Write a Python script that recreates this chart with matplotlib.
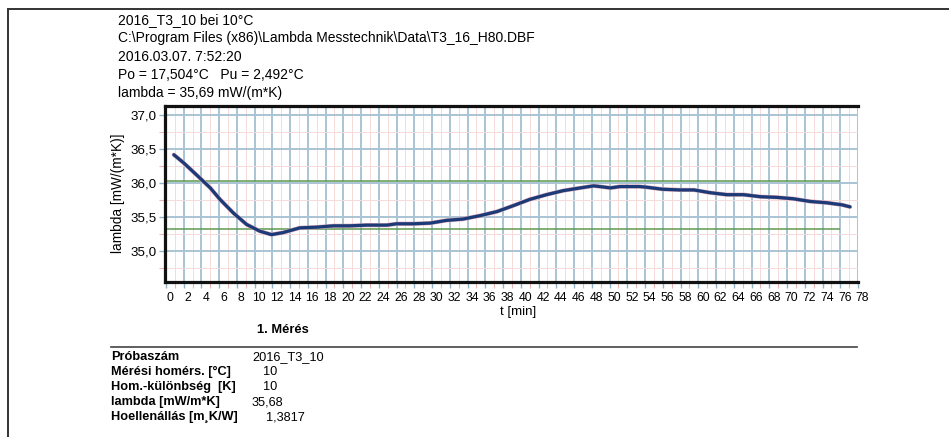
import matplotlib
matplotlib.use("Agg")
import matplotlib.pyplot as plt
import matplotlib.patheffects as pe
import matplotlib.transforms as mtransforms
from matplotlib.lines import Line2D
from matplotlib.ticker import MultipleLocator, FuncFormatter

plt.rcParams["font.family"] = ["Liberation Sans", "DejaVu Sans"]

W, H = 949, 437

# measured curve: t [min] vs lambda [mW/(m*K)]
t_min = [0.9, 2.0, 3.8, 5.0, 6.1, 7.6, 9.1, 10.6, 11.9, 13.2, 15.1, 17.0,
         18.9, 20.7, 22.6, 24.9, 26.0, 27.9, 29.8, 31.6, 33.5, 35.4, 37.3,
         39.2, 41.0, 42.9, 44.8, 46.7, 48.2, 48.9, 50.1, 51.2, 53.4, 54.2,
         56.0, 58.0, 59.5, 61.3, 63.2, 65.1, 67.0, 68.9, 70.7, 72.6, 74.5,
         76.2, 77.1]
lam = [36.42, 36.30, 36.08, 35.93, 35.76, 35.56, 35.39, 35.29, 35.24, 35.27,
       35.34, 35.35, 35.37, 35.37, 35.38, 35.38, 35.40, 35.40, 35.41, 35.45,
       35.47, 35.52, 35.58, 35.67, 35.76, 35.83, 35.89, 35.93, 35.96, 35.95,
       35.93, 35.95, 35.95, 35.94, 35.91, 35.90, 35.90, 35.86, 35.83, 35.83,
       35.80, 35.79, 35.77, 35.73, 35.71, 35.68, 35.65]

# green reference levels and their time span
ref_levels = [36.03, 35.32]
ref_span = (0, 76)

header = [
    "2016_T3_10 bei 10°C",
    "C:\\Program Files (x86)\\Lambda Messtechnik\\Data\\T3_16_H80.DBF",
    "2016.03.07. 7:52:20",
    "Po = 17,504°C   Pu = 2,492°C",
    "lambda = 35,69 mW/(m*K)",
]

table_labels = ["Próbaszám", "Mérési homérs. [°C]", "Hom.-különbség  [K]",
                "lambda [mW/m*K]", "Hoellenállás [m\u00b8K/W]"]
table_values = ["2016_T3_10", "10", "10", "35,68", "1,3817"]
table_value_x = [252, 263, 263, 252, 266]


def fx(px):
    return px / W


def fy(py):
    return 1 - py / H


fig = plt.figure(figsize=(W / 100, H / 100), dpi=100)

# page frame (top and left edges)
fig.add_artist(Line2D([fx(8), 1], [fy(9), fy(9)], color="#333333", lw=1.4))
fig.add_artist(Line2D([fx(8), fx(8)], [fy(9), 0], color="#333333", lw=1.4))

for i, line in enumerate(header):
    fig.text(fx(118), fy(20 + 18.3 * i), line, fontsize=10, va="center", ha="left")

ax = fig.add_axes([fx(165), fy(282), fx(858 - 165), (282 - 106) / H])
ax.set_xlim(-0.1, 78.0)
ax.set_ylim(34.54, 37.14)

ax.xaxis.set_major_locator(MultipleLocator(2))
ax.xaxis.set_minor_locator(MultipleLocator(1))
ax.yaxis.set_major_locator(MultipleLocator(0.5))
ax.yaxis.set_minor_locator(MultipleLocator(0.25))
ax.yaxis.set_major_formatter(FuncFormatter(lambda v, p: f"{v:.1f}".replace(".", ",")
                                           if v >= 34.99 else ""))

ax.grid(which="major", color="#a9c4d4", lw=1.4)
ax.grid(which="minor", color="#f5dada", lw=0.7)
ax.set_axisbelow(True)

ax.tick_params(which="major", length=4, width=1.0, color="#8fb3c8", pad=2)
ax.tick_params(which="minor", length=4, width=0.8, color="#e8b4b4")
ax.tick_params(axis="x", labelsize=8.8, pad=3)
ax.tick_params(axis="y", labelsize=9.6, pad=2)

# tick labels sit a little right of the grid lines in the original
shift = mtransforms.ScaledTranslation(4.5 / 100, 0, fig.dpi_scale_trans)
for lab in ax.get_xticklabels():
    lab.set_transform(lab.get_transform() + shift)

for side in ("left", "top", "bottom"):
    ax.spines[side].set_linewidth(2.3)
    ax.spines[side].set_color("#111111")
ax.spines["right"].set_visible(False)

ax.hlines(ref_levels, ref_span[0], ref_span[1], color="#5f9a4f", lw=1.1, zorder=2)

ax.plot(t_min, lam, color="#1b3a78", lw=2.3, solid_capstyle="round", zorder=3,
        path_effects=[pe.Stroke(linewidth=3.0, foreground="#d8a4b4"), pe.Normal()])

fig.text(fx(118), fy(193), "lambda [mW/(m*K)]", fontsize=9.8, rotation=90,
         ha="center", va="center")
fig.text(fx(518), fy(312), "t [min]", fontsize=9.5, ha="center", va="center")
fig.text(fx(283), fy(330), "1. Mérés", fontsize=9.3, fontweight="bold",
         ha="center", va="center")

fig.add_artist(Line2D([fx(111), fx(857)], [fy(347), fy(347)], color="#444444", lw=1.2))

for i, (lab, val, vx) in enumerate(zip(table_labels, table_values, table_value_x)):
    yy = fy(357 + 15.1 * i)
    fig.text(fx(111), yy, lab, fontsize=9.2, fontweight="bold", va="center")
    fig.text(fx(vx), yy, val, fontsize=9.2, va="center")

fig.savefig("out.png", dpi=100)
